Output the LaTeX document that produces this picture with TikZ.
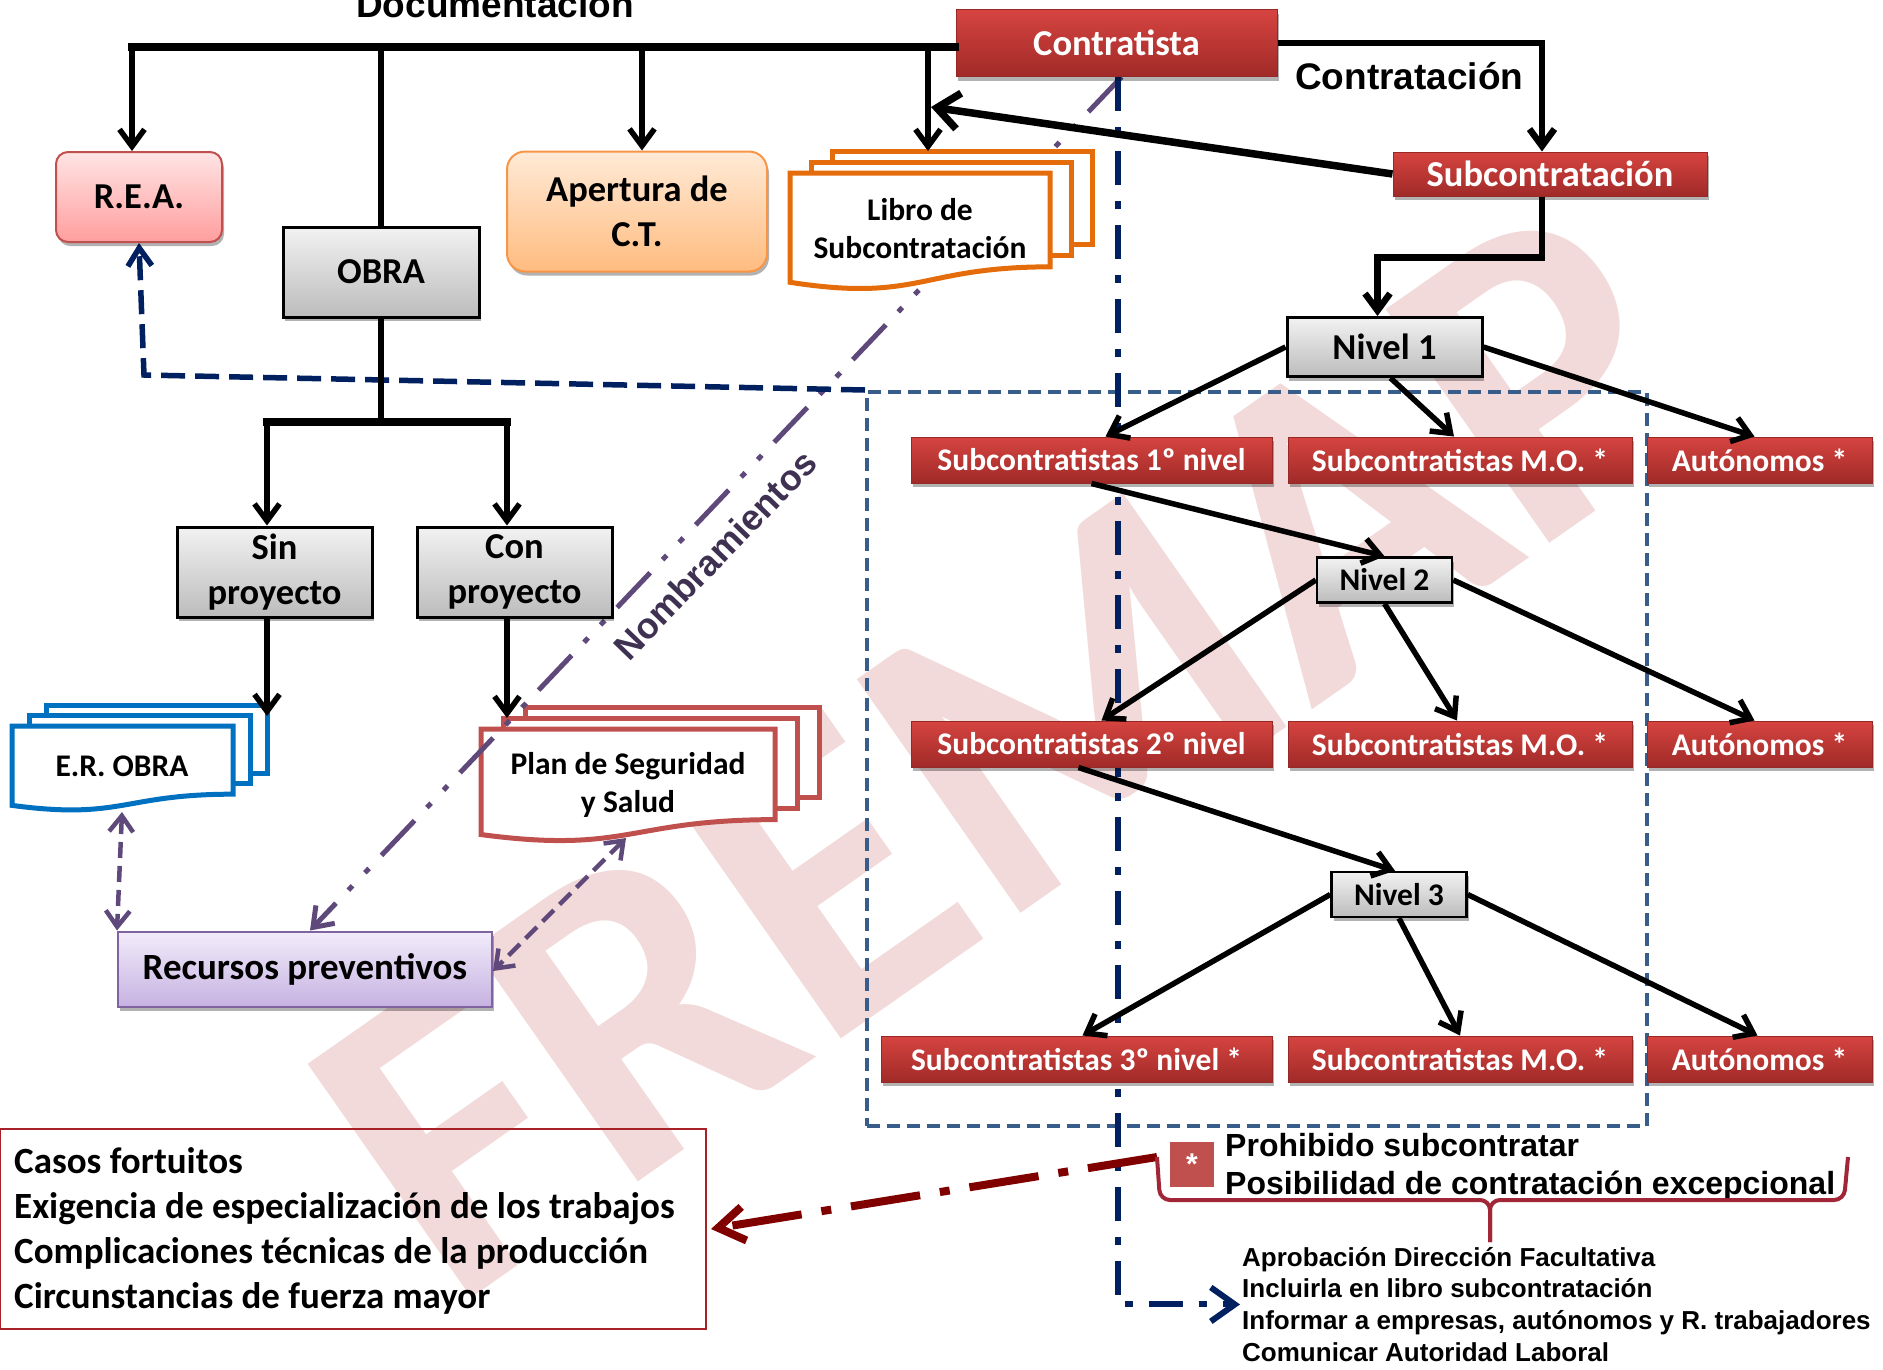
\documentclass[tikz,border=0pt]{standalone}
\usepackage{fontspec}
\setmainfont{Carlito}
\newfontfamily\arialf{Liberation Sans}
\usetikzlibrary{arrows.meta,shadows}
\pgfdeclarelayer{bglayer}
\pgfdeclarelayer{midlayer}
\pgfsetlayers{bglayer,midlayer,main}
\definecolor{redT}{RGB}{214,68,64}
\definecolor{redB}{RGB}{160,42,40}
\definecolor{redD}{RGB}{150,40,38}
\definecolor{grayT}{RGB}{242,242,242}
\definecolor{grayB}{RGB}{188,188,188}
\definecolor{reaT}{RGB}{255,228,228}
\definecolor{reaB}{RGB}{255,158,158}
\definecolor{reaD}{RGB}{192,80,77}
\definecolor{apT}{RGB}{255,234,214}
\definecolor{apB}{RGB}{255,188,128}
\definecolor{apD}{RGB}{247,150,70}
\definecolor{reT}{RGB}{242,236,250}
\definecolor{reB}{RGB}{198,178,226}
\definecolor{reD}{RGB}{128,100,162}
\definecolor{docBlue}{RGB}{0,112,192}
\definecolor{docOrange}{RGB}{228,108,10}
\definecolor{docRed}{RGB}{192,80,77}
\definecolor{cNavy}{RGB}{0,32,96}
\definecolor{cSteel}{RGB}{56,93,138}
\definecolor{cPurp}{RGB}{95,73,122}
\definecolor{cPurpD}{RGB}{63,49,81}
\definecolor{cDarkRed}{RGB}{128,0,0}
\definecolor{cBrace}{RGB}{160,38,56}
\definecolor{cCasos}{RGB}{168,32,40}
\definecolor{cWm}{RGB}{242,218,218}

\newcommand{\mdoc}[7]{%
  \draw[draw=#7, line width=5pt, fill=white] ({#1+2*#5},{#2-2*#6}) rectangle ++(#3,{0.802*#4});
  \draw[draw=#7, line width=5pt, fill=white] ({#1+#5},{#2-#6}) rectangle ++(#3,{0.802*#4});
  \draw[draw=#7, line width=5pt, fill=white] (#1,#2) -- ({#1+#3},#2) -- ({#1+#3},{#2+0.802*#4})
    .. controls ({#1+0.5*#3},{#2+0.802*#4}) and ({#1+0.5*#3},{#2+1.107*#4}) .. (#1,{#2+0.934*#4}) -- cycle;
}

\tikzset{
  lbl/.style={inner sep=0pt, align=center},
  fbig/.style={font=\fontsize{36.5}{45}\selectfont\bfseries},
  fmid/.style={font=\fontsize{31.5}{38}\selectfont\bfseries},
  shad/.style={drop shadow={shadow xshift=2pt, shadow yshift=-4pt, opacity=0.3, fill=black}},
  redbox/.style={lbl, fmid, text=white, top color=redT, bottom color=redB, draw=redD, line width=1pt, shad},
  graybox/.style={lbl, fbig, top color=grayT, bottom color=grayB, draw=black, line width=3pt, shad},
  reabox/.style={lbl, fbig, top color=reaT, bottom color=reaB, draw=reaD, line width=2pt, rounded corners=12pt, shad},
  apbox/.style={lbl, fbig, top color=apT, bottom color=apB, draw=apD, line width=2pt, rounded corners=18pt, shad},
  recbox/.style={lbl, fbig, top color=reT, bottom color=reB, draw=reD, line width=2pt, shad},
  plainln/.style={draw=black, line width=5.5pt},
  thickln/.style={draw=black, line width=7.5pt, line cap=rect},
  conn/.style={draw=black, line width=5.5pt, -{Straight Barb[length=17pt,width=25pt]}},
  thickarr/.style={draw=black, line width=7.5pt, -{Straight Barb[length=22pt,width=36pt]}},
  purparr/.style={draw=cPurp, line width=4.5pt, dash pattern=on 16pt off 8pt,
     {Straight Barb[length=16pt,width=24pt]}-{Straight Barb[length=16pt,width=24pt]}},
  nombln/.style={draw=cPurp, line width=5pt, dash pattern=on 48pt off 18pt on 6pt off 18pt on 6pt off 18pt,
     -{Straight Barb[length=18pt,width=26pt]}},
  navydd/.style={draw=cNavy, line width=6pt, dash pattern=on 34pt off 16pt on 8pt off 16pt,
     -{Straight Barb[length=24pt,width=34pt]}},
  navyd/.style={draw=cNavy, line width=5.5pt, dash pattern=on 24pt off 10pt,
     -{Straight Barb[length=18pt,width=24pt]}},
  reddd/.style={draw=cDarkRed, line width=8pt, dash pattern=on 70pt off 20pt on 10pt off 20pt,
     -{Straight Barb[length=26pt,width=34pt]}},
  bracepath/.style={draw=cBrace, line width=4pt, rounded corners=10pt},
}

\begin{document}
\begin{tikzpicture}[x=1pt,y=-1pt]
\useasboundingbox (0,0) rectangle (1883,1369);
\clip (0,0) rectangle (1883,1369);

% ---------- main nodes ----------
\node[redbox, fbig, minimum width=321pt, minimum height=67pt] (contr) at (1116.5,43) {Contratista};
\node[redbox, fbig, minimum width=314pt, minimum height=44pt] (subc) at (1550,174) {Subcontratación};
\node[reabox, minimum width=166pt, minimum height=90pt] (rea) at (139,197) {R.E.A.};
\node[graybox, minimum width=196pt, minimum height=90pt] (obra) at (381,272) {OBRA};
\node[apbox, minimum width=260pt, minimum height=120pt] (aper) at (637,211.5) {Apertura de\\C.T.};
\node[graybox, minimum width=195pt, minimum height=59pt] (n1) at (1384.5,347) {Nivel 1};
\node[redbox, minimum width=361pt, minimum height=46pt] (s11) at (1091.5,460) {Subcontratistas 1º nivel};
\node[redbox, minimum width=344pt, minimum height=46pt] (s12) at (1460,460) {Subcontratistas M.O. *};
\node[redbox, minimum width=225pt, minimum height=46pt] (s13) at (1759.5,460) {Autónomos *};
\node[graybox, fmid, line width=2.5pt, minimum width=135pt, minimum height=45pt] (n2) at (1384.5,580) {Nivel 2};
\node[redbox, minimum width=361pt, minimum height=46pt] (s21) at (1091.5,744) {Subcontratistas 2º nivel};
\node[redbox, minimum width=344pt, minimum height=46pt] (s22) at (1460,744) {Subcontratistas M.O. *};
\node[redbox, minimum width=225pt, minimum height=46pt] (s23) at (1759.5,744) {Autónomos *};
\node[graybox, fmid, line width=2.5pt, minimum width=135pt, minimum height=45pt] (n3) at (1399,894.5) {Nivel 3};
\node[redbox, minimum width=391pt, minimum height=46pt] (s31) at (1076.5,1059) {Subcontratistas 3º nivel *};
\node[redbox, minimum width=344pt, minimum height=46pt] (s32) at (1460,1059) {Subcontratistas M.O. *};
\node[redbox, minimum width=225pt, minimum height=46pt] (s33) at (1759.5,1059) {Autónomos *};
\node[graybox, minimum width=195pt, minimum height=90pt] (sin) at (274.5,572) {Sin\\proyecto};
\node[graybox, minimum width=195pt, minimum height=90pt] (con) at (514.5,572) {Con\\proyecto};
\node[recbox, font=\fontsize{37}{45}\selectfont\bfseries, minimum width=374pt, minimum height=75pt] (rec) at (305,969) {Recursos preventivos};

\node[draw=cCasos, line width=2pt, minimum width=706pt, minimum height=200pt, inner sep=0pt] (casos) at (353,1229) {};
\node[anchor=north west, inner sep=0pt, align=left, font=\fontsize{37}{45}\selectfont\bfseries] (casostxt) at (14,1147)
  {Casos fortuitos\\Exigencia de especialización de los trabajos\\Complicaciones técnicas de la producción\\Circunstancias de fuerza mayor};

\node[fill=docRed, text=white, minimum width=44pt, minimum height=45pt, inner sep=0pt, font=\arialf\bfseries\fontsize{30}{30}\selectfont] (ast) at (1192,1164) {*};
\node[anchor=north west, inner sep=0pt, align=left, font=\arialf\bfseries\fontsize{32}{38}\selectfont] (proh) at (1225,1133)
  {Prohibido subcontratar\\Posibilidad de contratación excepcional};
\node[anchor=north west, inner sep=0pt, align=left, font=\arialf\bfseries\fontsize{26}{31.7}\selectfont] (brtext) at (1242,1247)
  {Aprobación Dirección Facultativa\\Incluirla en libro subcontratación\\Informar a empresas, autónomos y R. trabajadores\\Comunicar Autoridad Laboral};

\node[anchor=base, inner sep=0pt, font=\arialf\bfseries\fontsize{37}{44}\selectfont] (doclab) at (495,17) {Documentación};
\node[anchor=base west, inner sep=0pt, font=\arialf\bfseries\fontsize{37}{44}\selectfont] (contlab) at (1295,89) {Contratación};
\node[rotate=46, text=cPurpD, inner sep=0pt, font=\arialf\bfseries\fontsize{36}{40}\selectfont] (nomb) at (715,555) {Nombramientos};

% ---------- coordinates ----------
\coordinate (topL) at (132,47);
\coordinate (libtop) at (928,151);
\coordinate (libarr) at (931,107);
\coordinate (split) at (381,422);
\coordinate (erTop) at (267,716);
\coordinate (planTop) at (507,718);
\coordinate (erb) at (122,812);
\coordinate (planb) at (626,838);
\coordinate (brL) at (1157,1157);
\coordinate (brTip) at (1490,1242);

% ---------- background layer ----------
\begin{pgfonlayer}{bglayer}
\node[rotate=35, anchor=base west, inner sep=0pt, text=cWm, font=\bfseries\fontsize{440}{450}\selectfont] (wmark) at (452,1312) {FREMAP};
\node[draw=cSteel, line width=4pt, dash pattern=on 13pt off 7pt, minimum width=780pt, minimum height=734pt, inner sep=0pt] (region) at (1257,759) {};
\mdoc{12}{726}{221}{85}{17}{10.5}{docBlue}
\mdoc{481}{729}{294}{113}{22}{11}{docRed}
\end{pgfonlayer}

% ---------- middle layer ----------
\begin{pgfonlayer}{midlayer}
\draw[nombln] ([xshift=5pt]contr.south) -- ([xshift=5pt]rec.north);
\mdoc{790}{173}{260}{117}{21}{11}{docOrange}
\draw[navydd] ([xshift=1.5pt]contr.south) |- ([xshift=-2pt]brtext.west);
\draw[navyd] (region.north west) -- ++(-721,-15) -- (rea.south);
\end{pgfonlayer}

\node[lbl, fmid] (libtxt) at (920,229) {Libro de\\Subcontratación};
\node[lbl, fmid] (ertxt) at (122,766) {E.R. OBRA};
\node[lbl, fmid] (plantxt) at (628,785) {Plan de Seguridad\\y Salud};

% ---------- connectors ----------
\draw[thickln] (topL) -- (contr.west |- topL);
\draw[conn] (topL) -- (topL |- rea.north);
\draw[plainln] (obra.north |- topL) -- (obra.north);
\draw[conn] ([xshift=5pt]aper.north |- topL) -- ([xshift=5pt]aper.north);
\draw[conn] (libtop |- topL) -- (libtop);
\draw[conn, line width=6.5pt] (contr.east) -| ([xshift=-8pt]subc.north);
\draw[thickarr] (subc.west) -- (libarr);
\draw[conn, line width=6.5pt] ([xshift=-8pt]subc.south) -- ++(0,61) -| ([xshift=-7pt]n1.north);

\draw[plainln] (obra.south) -- (split);
\draw[thickln] (erTop |- split) -- (planTop |- split);
\draw[conn] (erTop |- split) -- ([xshift=-7.5pt]sin.north);
\draw[conn] (planTop |- split) -- ([xshift=-7.5pt]con.north);
\draw[conn] (sin.south -| erTop) -- (erTop);
\draw[conn] (con.south -| planTop) -- (planTop);

\draw[conn] (n1.west) -- ([xshift=14pt]s11.north);
\draw[conn] ([xshift=6pt]n1.south) -- ([xshift=-6pt]s12.north);
\draw[conn] (n1.east) -- ([xshift=-5pt]s13.north);
\draw[conn] (s11.south) -- (n2.north);
\draw[conn] (n2.west) -- ([xshift=10pt]s21.north);
\draw[conn] (n2.south) -- ([xshift=-3pt]s22.north);
\draw[conn] (n2.east) -- ([xshift=-5pt]s23.north);
\draw[conn] ([xshift=-13pt]s21.south) -- ([xshift=-4pt]n3.north);
\draw[conn] (n3.west) -- ([xshift=6pt]s31.north);
\draw[conn] (n3.south) -- (s32.north);
\draw[conn] (n3.east) -- ([xshift=-2pt]s33.north);

\draw[purparr] (erb) -- (rec.north west);
\draw[purparr] (planb) -- ([yshift=-2pt]rec.east);

\draw[reddd] (brL) -- ([xshift=4pt]casos.east);
\draw[bracepath] (brL) -- (1160,1200) -- (brTip |- 0,1200) -- (brTip);
\draw[bracepath] (brTip) -- (brTip |- 0,1200) -- (1844,1200) -- (1848,1157);
\end{tikzpicture}
\end{document}
